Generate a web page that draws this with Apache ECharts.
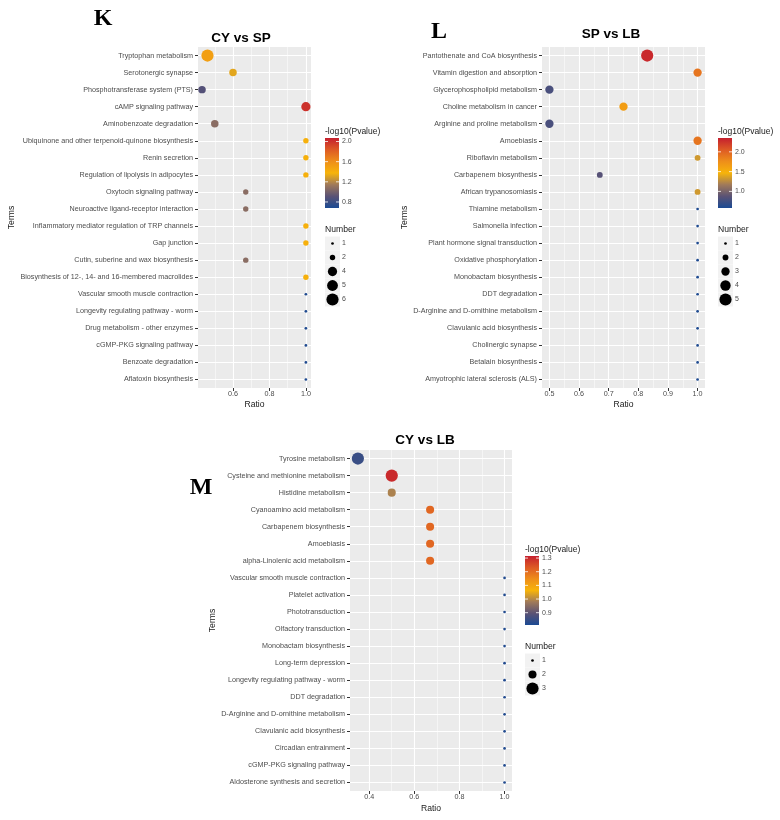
<!DOCTYPE html>
<html>
<head>
<meta charset="utf-8">
<script src="https://cdn.jsdelivr.net/npm/echarts@6/dist/echarts.min.js"></script>
<style>
  html, body { margin: 0; background: #fff; }
  #chart { width: 780px; height: 820px; }
</style>
</head>
<body>
<div id="chart"></div>
<script>
// K: CY vs SP
const termsK = ['Tryptophan metabolism', 'Serotonergic synapse', 'Phosphotransferase system (PTS)', 'cAMP signaling pathway',
  'Aminobenzoate degradation', 'Ubiquinone and other terpenoid-quinone biosynthesis', 'Renin secretion',
  'Regulation of lipolysis in adipocytes', 'Oxytocin signaling pathway', 'Neuroactive ligand-receptor interaction',
  'Inflammatory mediator regulation of TRP channels', 'Gap junction', 'Cutin, suberine and wax biosynthesis',
  'Biosynthesis of 12-, 14- and 16-membered macrolides', 'Vascular smooth muscle contraction',
  'Longevity regulating pathway - worm', 'Drug metabolism - other enzymes', 'cGMP-PKG signaling pathway',
  'Benzoate degradation', 'Aflatoxin biosynthesis'];
const ratioK = [0.46, 0.6, 0.43, 1, 0.5, 1, 1, 1, 0.67, 0.67, 1, 1, 0.67, 1, 1, 1, 1, 1, 1, 1];
const pvalK = [1.5, 1.32, 0.89, 2.0, 1.07, 1.4, 1.4, 1.4, 1.07, 1.07, 1.4, 1.4, 1.07, 1.4, 0.7, 0.7, 0.7, 0.7, 0.7, 0.7];
const numK = [6, 3, 3, 4, 3, 2, 2, 2, 2, 2, 2, 2, 2, 2, 1, 1, 1, 1, 1, 1];
const xTicksK = [0.6, 0.8, 1.0];
const colorTicksK = [0.8, 1.2, 1.6, 2.0];
const colorRangeK = [0.68, 2.07];
const sizeBreaksK = [1, 2, 4, 5, 6];

// L: SP vs LB
const termsL = ['Pantothenate and CoA biosynthesis', 'Vitamin digestion and absorption', 'Glycerophospholipid metabolism',
  'Choline metabolism in cancer', 'Arginine and proline metabolism', 'Amoebiasis', 'Riboflavin metabolism',
  'Carbapenem biosynthesis', 'African trypanosomiasis', 'Thiamine metabolism', 'Salmonella infection',
  'Plant hormone signal transduction', 'Oxidative phosphorylation', 'Monobactam biosynthesis', 'DDT degradation',
  'D-Arginine and D-ornithine metabolism', 'Clavulanic acid biosynthesis', 'Cholinergic synapse',
  'Betalain biosynthesis', 'Amyotrophic lateral sclerosis (ALS)'];
const ratioL = [0.83, 1, 0.5, 0.75, 0.5, 1, 1, 0.67, 1, 1, 1, 1, 1, 1, 1, 1, 1, 1, 1, 1];
const pvalL = [2.3, 1.9, 0.8, 1.64, 0.8, 1.9, 1.33, 0.86, 1.33, 0.6, 0.6, 0.6, 0.6, 0.6, 0.6, 0.6, 0.6, 0.6, 0.6, 0.6];
const numL = [5, 3, 3, 3, 3, 3, 2, 2, 2, 1, 1, 1, 1, 1, 1, 1, 1, 1, 1, 1];
const xTicksL = [0.5, 0.6, 0.7, 0.8, 0.9, 1.0];
const colorTicksL = [1.0, 1.5, 2.0];
const colorRangeL = [0.58, 2.35];
const sizeBreaksL = [1, 2, 3, 4, 5];

// M: CY vs LB
const termsM = ['Tyrosine metabolism', 'Cysteine and methionine metabolism', 'Histidine metabolism',
  'Cyanoamino acid metabolism', 'Carbapenem biosynthesis', 'Amoebiasis', 'alpha-Linolenic acid metabolism',
  'Vascular smooth muscle contraction', 'Platelet activation', 'Phototransduction', 'Olfactory transduction',
  'Monobactam biosynthesis', 'Long-term depression', 'Longevity regulating pathway - worm', 'DDT degradation',
  'D-Arginine and D-ornithine metabolism', 'Clavulanic acid biosynthesis', 'Circadian entrainment',
  'cGMP-PKG signaling pathway', 'Aldosterone synthesis and secretion'];
const ratioM = [0.35, 0.5, 0.5, 0.67, 0.67, 0.67, 0.67, 1, 1, 1, 1, 1, 1, 1, 1, 1, 1, 1, 1, 1];
const pvalM = [0.85, 1.3, 0.99, 1.21, 1.21, 1.21, 1.21, 0.82, 0.82, 0.82, 0.82, 0.82, 0.82, 0.82, 0.82, 0.82, 0.82, 0.82, 0.82, 0.82];
const numM = [3, 3, 2, 2, 2, 2, 2, 1, 1, 1, 1, 1, 1, 1, 1, 1, 1, 1, 1, 1];
const xTicksM = [0.4, 0.6, 0.8, 1.0];
const colorTicksM = [0.9, 1.0, 1.1, 1.2, 1.3];
const colorRangeM = [0.81, 1.315];
const sizeBreaksM = [1, 2, 3];

// blue -> yellow -> red, like the ggplot gradient
const palette = ['#1B4A93', '#5A5275', '#A07A5A', '#F7B40A', '#EE8E1A', '#DD5A25', '#C51F2E'];
const FONT = "'Liberation Sans', Arial, Helvetica, sans-serif";

const panels = [
  { tag: 'K', title: 'CY vs SP', terms: termsK, ratio: ratioK, pval: pvalK, num: numK, xTicks: xTicksK,
    cTicks: colorTicksK, cRange: colorRangeK, sBreaks: sizeBreaksK },
  { tag: 'L', title: 'SP vs LB', terms: termsL, ratio: ratioL, pval: pvalL, num: numL, xTicks: xTicksL,
    cTicks: colorTicksL, cRange: colorRangeL, sBreaks: sizeBreaksL },
  { tag: 'M', title: 'CY vs LB', terms: termsM, ratio: ratioM, pval: pvalM, num: numM, xTicks: xTicksM,
    cTicks: colorTicksM, cRange: colorRangeM, sBreaks: sizeBreaksM }
];

// where each panel sits on the page
const layouts = [
  { grid: { left: 198, top: 47, width: 113, height: 341 }, xMin: 0.408, xMax: 1.028, split: 3,
    titleXY: [241, 38], tagXY: [103, 19], termsGap: 180, ratioGap: 12, lx: 325, cbTop: 138, cbH: 70, numTop: 230 },
  { grid: { left: 542, top: 47, width: 163, height: 341 }, xMin: 0.475, xMax: 1.025, split: 5,
    titleXY: [611, 34], tagXY: [439, 32], termsGap: 130, ratioGap: 12, lx: 718, cbTop: 138, cbH: 70, numTop: 230 },
  { grid: { left: 350, top: 450, width: 162, height: 341 }, xMin: 0.315, xMax: 1.033, split: 4,
    titleXY: [425, 440], tagXY: [201, 488], termsGap: 131, ratioGap: 13, lx: 525, cbTop: 556, cbH: 69, numTop: 647 }
];

// ggplot scale_size (area) : range 1..6, then to px
function dotSize(n, maxN) {
  const s = 1 + (Math.sqrt(n) - 1) / (Math.sqrt(maxN) - 1) * 5;
  return 1.9 * s + 0.8;
}

const grids = [], xAxes = [], yAxes = [], series = [], visualMaps = [], graphics = [];

panels.forEach((p, i) => {
  const lay = layouts[i];
  const maxN = Math.max(...p.sBreaks);
  grids.push(Object.assign({ show: true, backgroundColor: '#EBEBEB', borderWidth: 0, containLabel: false,
    outerBoundsMode: 'none' }, lay.grid));

  xAxes.push({
    type: 'value', gridIndex: i, min: lay.xMin, max: lay.xMax, splitNumber: lay.split,
    name: 'Ratio', nameLocation: 'middle', nameGap: lay.ratioGap,
    nameTextStyle: { fontFamily: FONT, fontSize: 8.6, color: '#1a1a1a' },
    axisLine: { show: false },
    axisTick: { show: true, length: 3, lineStyle: { color: '#333' }, customValues: p.xTicks },
    axisLabel: { fontFamily: FONT, fontSize: 7.2, color: '#4D4D4D', margin: 3, customValues: p.xTicks,
      formatter: v => v.toFixed(1) },
    splitLine: { show: true, lineStyle: { color: '#fff', width: 1.1 } },
    minorTick: { show: false, splitNumber: 2 },
    minorSplitLine: { show: true, lineStyle: { color: '#fff', width: 0.5 } }
  });

  yAxes.push({
    type: 'category', gridIndex: i, data: p.terms, inverse: true, boundaryGap: true,
    name: 'Terms', nameLocation: 'middle', nameRotate: 90, nameGap: lay.termsGap,
    nameTextStyle: { fontFamily: FONT, fontSize: 8.6, color: '#1a1a1a' },
    axisLine: { show: false },
    axisTick: { show: true, alignWithLabel: true, length: 3, lineStyle: { color: '#333' } },
    axisLabel: { interval: 0, fontFamily: FONT, fontSize: 7.2, color: '#4D4D4D', margin: 5 },
    splitLine: { show: false }
  });

  // horizontal white grid lines at each term, kept under the points
  series.push({
    type: 'scatter', xAxisIndex: i, yAxisIndex: i, data: [], silent: true, z: 1,
    markLine: {
      z: 1, silent: true, symbol: ['none', 'none'], label: { show: false },
      lineStyle: { color: '#fff', width: 1.1, type: 'solid' }, emphasis: { disabled: true },
      data: p.terms.map(t => ({ yAxis: t }))
    }
  });

  series.push({
    type: 'scatter', xAxisIndex: i, yAxisIndex: i, z: 6,
    data: p.terms.map((t, k) => [p.ratio[k], t, p.pval[k], p.num[k]]),
    symbolSize: v => dotSize(v[3], maxN),
    itemStyle: { opacity: 1 }
  });

  visualMaps.push({
    type: 'continuous', show: false, seriesIndex: series.length - 1, dimension: 2,
    min: p.cRange[0], max: p.cRange[1], inRange: { color: palette }
  });

  // panel letter and title
  graphics.push({ type: 'text', x: lay.tagXY[0], y: lay.tagXY[1], silent: true,
    style: { text: p.tag, fontFamily: "'Liberation Serif', 'Times New Roman', serif", fontWeight: 'bold',
      fontSize: 24, fill: '#000', align: 'center', verticalAlign: 'middle' } });
  graphics.push({ type: 'text', x: lay.titleXY[0], y: lay.titleXY[1], silent: true,
    style: { text: p.title, fontFamily: FONT, fontWeight: 'bold', fontSize: 13.5, fill: '#000',
      align: 'center', verticalAlign: 'middle' } });

  // colour bar legend
  const cbW = 14;
  graphics.push({ type: 'text', x: lay.lx, y: lay.cbTop - 6, silent: true,
    style: { text: '-log10(Pvalue)', fontFamily: FONT, fontSize: 8.5, fill: '#1a1a1a', align: 'left', verticalAlign: 'middle' } });
  graphics.push({ type: 'rect', silent: true, shape: { x: lay.lx, y: lay.cbTop, width: cbW, height: lay.cbH },
    style: { fill: { type: 'linear', x: 0, y: 1, x2: 0, y2: 0, global: false,
      colorStops: palette.map((c, k) => ({ offset: k / (palette.length - 1), color: c })) } } });
  p.cTicks.forEach(t => {
    const y = lay.cbTop + (p.cRange[1] - t) / (p.cRange[1] - p.cRange[0]) * lay.cbH;
    graphics.push({ type: 'line', silent: true, shape: { x1: lay.lx, y1: y, x2: lay.lx + 3, y2: y },
      style: { stroke: 'rgba(255,255,255,0.8)', lineWidth: 1 } });
    graphics.push({ type: 'line', silent: true, shape: { x1: lay.lx + cbW - 3, y1: y, x2: lay.lx + cbW, y2: y },
      style: { stroke: 'rgba(255,255,255,0.8)', lineWidth: 1 } });
    graphics.push({ type: 'text', x: lay.lx + cbW + 3, y: y, silent: true,
      style: { text: t.toFixed(1), fontFamily: FONT, fontSize: 7, fill: '#4D4D4D', align: 'left', verticalAlign: 'middle' } });
  });

  // size legend
  graphics.push({ type: 'text', x: lay.lx, y: lay.numTop, silent: true,
    style: { text: 'Number', fontFamily: FONT, fontSize: 8.6, fill: '#1a1a1a', align: 'left', verticalAlign: 'middle' } });
  p.sBreaks.forEach((n, k) => {
    const cy = lay.numTop + 13.5 + k * 14;
    graphics.push({ type: 'rect', silent: true, shape: { x: lay.lx, y: cy - 7, width: 15, height: 14 },
      style: { fill: '#F2F2F2' } });
    graphics.push({ type: 'circle', silent: true, shape: { cx: lay.lx + 7.5, cy: cy, r: dotSize(n, maxN) / 2 },
      style: { fill: '#000' } });
    graphics.push({ type: 'text', x: lay.lx + 17, y: cy, silent: true,
      style: { text: String(n), fontFamily: FONT, fontSize: 7, fill: '#4D4D4D', align: 'left', verticalAlign: 'middle' } });
  });
});

const chart = echarts.init(document.getElementById('chart'), null, { renderer: 'canvas' });
chart.setOption({
  animation: false,
  backgroundColor: '#fff',
  grid: grids,
  xAxis: xAxes,
  yAxis: yAxes,
  visualMap: visualMaps,
  series: series,
  graphic: { elements: graphics }
});
</script>
</body>
</html>
